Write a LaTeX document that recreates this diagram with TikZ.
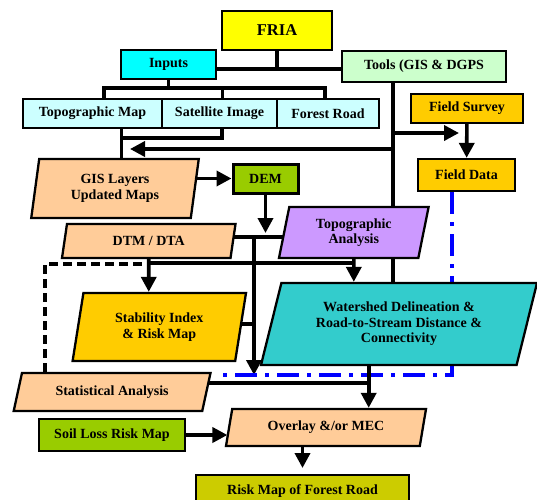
\documentclass[tikz,border=0pt]{standalone}
\usepackage{fontspec}
\setmainfont{Liberation Serif}
\usetikzlibrary{shapes.geometric,arrows.meta,backgrounds}
\definecolor{friaY}{HTML}{FFFF00}
\definecolor{inputC}{HTML}{00FFFF}
\definecolor{toolG}{HTML}{CCFFCC}
\definecolor{mapC}{HTML}{CCFFFF}
\definecolor{fieldO}{HTML}{FFCC00}
\definecolor{peach}{HTML}{FFCC99}
\definecolor{demG}{HTML}{99CC00}
\definecolor{topoP}{HTML}{CC99FF}
\definecolor{shedT}{HTML}{33CCCC}
\definecolor{riskY}{HTML}{CCCC00}
\tikzset{
  box/.style={draw,line width=2.3pt,inner sep=0pt,align=center,
    font=\bfseries\fontsize{14}{15.5}\selectfont},
  para/.style={box,trapezium,trapezium left angle=#1,
    trapezium right angle={180-#1},trapezium stretches body},
  link/.style={line width=3.6pt},
  >={Triangle[length=15pt,width=15pt]}
}
\begin{document}
\begin{tikzpicture}[x=1pt,y=-1pt]
\useasboundingbox (0,0) rectangle (537,499);
% boxes
\node[box,fill=friaY,minimum width=110pt,minimum height=39pt,
  font=\bfseries\fontsize{16.5}{18}\selectfont] (FRIA) at (277,30.5) {FRIA};
\node[box,fill=inputC,minimum width=95pt,minimum height=29pt] (Inputs) at (168.5,64.5) {Inputs};
\node[box,fill=toolG,minimum width=164pt,minimum height=31pt] (Tools) at (424,66.5) {Tools (GIS \& DGPS};
\node[box,fill=mapC,minimum width=139pt,minimum height=29pt] (TopoMap) at (92.5,113.5) {Topographic Map};
\node[box,fill=mapC,minimum width=115pt,minimum height=29pt] (SatImage) at (219.5,113.5) {Satellite Image};
\node[box,fill=mapC,minimum width=102pt,minimum height=29pt] (ForRoad) at (328,113.5) {Forest Road};
\node[box,fill=fieldO,minimum width=112pt,minimum height=29pt] (FieldSurvey) at (467,108.5) {Field Survey};
\node[box,fill=fieldO,minimum width=97pt,minimum height=32pt] (FieldData) at (466.5,175) {Field Data};
\node[box,fill=demG,line width=3pt,minimum width=65pt,minimum height=29pt] (DEM) at (265.5,178.5) {DEM};
\node[box,fill=demG,minimum width=146.5pt,minimum height=32pt] (SoilLoss) at (112,435) {Soil Loss Risk Map};
\node[box,fill=riskY,minimum width=213pt,minimum height=32pt] (RiskMap) at (302.5,491) {Risk Map of Forest Road};
% parallelograms
\node[para=74,fill=peach,minimum width=167.5pt,minimum height=59pt] (GIS) at (115,188.5) {GIS Layers\\Updated Maps};
\node[para=62,fill=peach,minimum width=173.5pt,minimum height=34pt] (DTM) at (148.75,241) {DTM / DTA};
\node[para=70,fill=topoP,minimum width=149.6pt,minimum height=51pt] (TopoAn) at (353.8,232.5) {Topographic\\Analysis};
\node[para=69,fill=fieldO,minimum width=173.4pt,minimum height=68pt] (Stab) at (159.3,327) {Stability Index\\\& Risk Map};
\node[para=65,fill=shedT,minimum width=276pt,minimum height=82pt] (Shed) at (399,324)
  {Watershed Delineation \&\\Road-to-Stream Distance \&\\Connectivity};
\node[para=57,fill=peach,minimum width=196.8pt,minimum height=38pt] (Stat) at (112.1,392) {Statistical Analysis};
\node[para=64,fill=peach,minimum width=200pt,minimum height=37pt] (Overlay) at (326,427.5) {Overlay \&/or MEC};

\begin{scope}[on background layer]
\coordinate (jTop) at (277,69);
\coordinate (jIn) at (168.5,88);
\coordinate (tb) at (393,133);
\coordinate (jD) at (254,237);
\coordinate (jS) at (368.7,383);
\draw[link] (FRIA) -- (FRIA |- jTop);
\draw[link] (Inputs |- jTop) -- (Tools |- jTop);
\draw[link] (Inputs) -- (jIn);
\draw[link] (TopoMap.north -| 104,0) |- (jIn) -| (ForRoad.north -| 325,0);
\draw[link] (SatImage.north -| 222.5,0) -- (jIn -| 222.5,0);
\draw[link] (TopoMap.south -| 121.5,0) -- (GIS.north -| 121.5,0);
\draw[link] (SatImage.south -| 222,0) |- (121.5,138);
\draw[link] (Tools.south -| tb) -- (Shed.north -| tb);
\draw[link,->] (tb) -- ++(66,0);
\draw[link,->] (393,149) -- (130,149);
\draw[link,->] (FieldSurvey) -- (FieldData);
\draw[link,->] (GIS.east |- DEM.west) -- (DEM.west);
\draw[link,->] (DEM) -- (DEM |- 0,233);
\draw[link] (DTM.center |- jD) -- (TopoAn.center |- jD);
\draw[link,->] (jD) -- (254,375);
\draw[link] (Stab.center |- 0,324) -- (254,324);
\draw[link,->] (DTM) -- (DTM |- Stab.north);
\draw[link] (DTM |- 0,263) -- (TopoAn |- 0,263);
\draw[link,->] (TopoAn) -- (TopoAn |- Shed.north);
\draw[link,dash pattern=on 9pt off 5pt] (Stat.north -| 45,0) -- (45,264) -- (DTM |- 0,264);
\draw[link,blue,dash pattern=on 22pt off 8pt on 4pt off 8pt] (FieldData.south -| 452,0) |- (219,375);
\draw[link,->] (Shed.south -| jS) -- (Overlay.north -| jS);
\draw[link] (Stat.center |- jS) -- (jS);
\draw[link,->] (SoilLoss.east) -- ++(41,0);
\draw[link,->] (Overlay.south -| RiskMap.north) -- (302.5,468);
\end{scope}
\end{tikzpicture}
\end{document}
